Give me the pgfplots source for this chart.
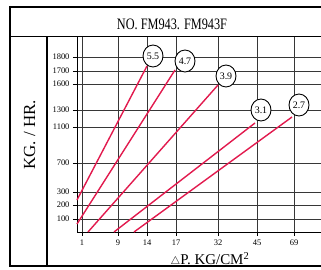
\documentclass[border=0pt]{standalone}
\usepackage{fontspec}
\setmainfont{Liberation Serif}
\usepackage{pgfplots}
\pgfplotsset{compat=1.18}
\usetikzlibrary{shapes.geometric}
\definecolor{pipe}{RGB}{226,26,78}
\definecolor{gridc}{RGB}{55,55,55}
\begin{document}
\begin{tikzpicture}[x=1bp,y=1bp]
\useasboundingbox (0,0) rectangle (321,270);
\fill[white] (0,0) rectangle (321,270);
% frame
\draw[black, line width=2bp] (10,263) -- (321,263);
\draw[black, line width=2bp] (10,264) -- (10,3);
\draw[black, line width=2bp] (9,4) -- (321,4);
\draw[black, line width=1bp] (10,233) -- (321,233);
\draw[black, line width=1.3bp] (47,233) -- (47,4);
\node[anchor=base, inner sep=0pt] at (172,241) {\scalebox{0.77}[1]{\fontsize{16}{16}\selectfont NO. FM943. FM943F}};
\node[anchor=base, inner sep=0pt, rotate=90] at (35,135) {\fontsize{17}{17}\selectfont KG. / HR.};
\node[anchor=base, inner sep=0pt] at (210,5.5) {\fontsize{15}{15}\selectfont {\fontsize{11}{11}\selectfont$\triangle$}P. KG/CM\textsuperscript{2}};
\begin{axis}[
 at={(77bp,38bp)}, anchor=south west, scale only axis, width=244bp, height=195bp,
 xmin=77, xmax=321, ymin=38, ymax=233,
 axis x line*=bottom, axis y line*=left,
 x axis line style={-}, y axis line style={-},
 axis line style={black, line width=0.9bp},
 xtick={82,118,147,176,218,257,294}, xticklabels={1,9,14,17,32,45,69},
 ytick={51,65,78,107,143,160,186,199,213},
 yticklabels={100,200,300,700,1100,1300,1600,1700,1800},
 tick align=outside, major tick length=4bp, tick style={black, line width=0.6bp},
 grid=major, major grid style={gridc, line width=0.9bp},
 ticklabel style={font=\fontsize{8.5}{8.5}\selectfont},
 clip=false,
]
\addplot[pipe, line width=1.4bp] coordinates {(77,70) (147,204)};
\addplot[pipe, line width=1.4bp] coordinates {(77,46) (175,200)};
\addplot[pipe, line width=1.4bp] coordinates {(88,38) (218,185)};
\addplot[pipe, line width=1.4bp] coordinates {(114,38) (255,147)};
\addplot[pipe, line width=1.4bp] coordinates {(134,38) (292,153)};
\addplot[draw=none, mark=none, nodes near coords, point meta=explicit symbolic,
  every node near coord/.style={ellipse, draw=black, fill=white, line width=0.9bp,
  inner sep=0pt, minimum width=20bp, minimum height=22bp, anchor=center,
  text=black, font=\fontsize{10}{10}\selectfont}]
  coordinates {(153,214)[5.5] (185,209)[4.7] (226,194)[3.9] (261,160)[3.1] (299,165)[2.7]};
\end{axis}
\end{tikzpicture}
\end{document}
